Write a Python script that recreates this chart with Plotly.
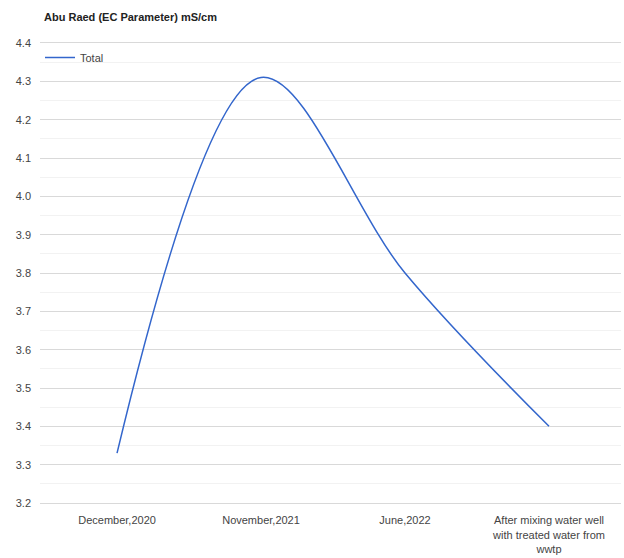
import plotly.graph_objects as go

# EC readings (mS/cm) at the Abu Raed well
categories = [
    "December,2020",
    "November,2021",
    "June,2022",
    "After mixing water well<br>with treated water from<br>wwtp",
]
ec_total = [3.33, 4.31, 3.80, 3.40]
y_ticks = [3.2, 3.3, 3.4, 3.5, 3.6, 3.7, 3.8, 3.9, 4.0, 4.1, 4.2, 4.3, 4.4]
y_tick_text = ["3.2", "3.3", "3.4", "3.5", "3.6", "3.7", "3.8", "3.9", "4.0", "4.1", "4.2", "4.3", "4.4"]

fig = go.Figure()
fig.add_trace(go.Scatter(
    x=list(range(len(categories))),
    y=ec_total,
    mode="lines",
    name="Total",
    line=dict(color="#3366cc", width=1.5, shape="spline", smoothing=1.0),
))

fig.update_layout(
    width=624,
    height=558,
    margin=dict(l=40, r=3, t=43, b=55),
    paper_bgcolor="white",
    plot_bgcolor="white",
    font=dict(family="Liberation Sans, Arial, sans-serif", size=11, color="#444444"),
    title=dict(
        text="<b>Abu Raed (EC Parameter) mS/cm</b>",
        xref="container", yref="container",
        x=44 / 624, y=1 - 17 / 558,
        xanchor="left", yanchor="middle",
        font=dict(size=11, color="#222222"),
    ),
    showlegend=True,
    legend=dict(
        x=0.0, y=1.0, xanchor="left", yanchor="top",
        bgcolor="rgba(0,0,0,0)",
        font=dict(size=11, color="#444444"),
        itemwidth=30,
        tracegroupgap=0,
    ),
    xaxis=dict(
        tickmode="array",
        tickvals=list(range(len(categories))),
        ticktext=categories,
        range=[-0.535, 3.5],
        showgrid=False,
        zeroline=False,
        showline=True,
        mirror=True,
        linecolor="#d9d9d9",
        linewidth=1,
        ticks="",
        ticklabelstandoff=7,
        automargin=False,
        tickfont=dict(size=11, color="#444444"),
    ),
    yaxis=dict(
        range=[3.2, 4.4],
        tickmode="array",
        tickvals=y_ticks,
        ticktext=y_tick_text,
        showgrid=True,
        gridcolor="#d9d9d9",
        gridwidth=1,
        zeroline=False,
        showline=False,
        ticks="",
        ticklabelstandoff=8,
        automargin=False,
        tickfont=dict(size=11, color="#444444"),
        minor=dict(dtick=0.05, showgrid=True, gridcolor="#f2f2f2", gridwidth=1),
    ),
)

fig.write_html("out.html")
